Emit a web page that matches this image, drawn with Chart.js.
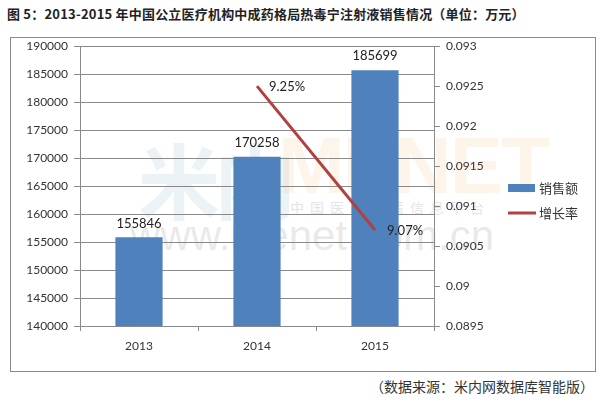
<!DOCTYPE html>
<html>
<head>
<meta charset="utf-8">
<script src="https://cdn.jsdelivr.net/npm/chart.js@4"></script>
<style>
  html, body { margin: 0; padding: 0; background: #fff; width: 604px; height: 406px; overflow: hidden; }
  #title { position: absolute; left: 7px; top: 4px; font: bold 13px "Noto Sans CJK SC", sans-serif; color: #222; white-space: nowrap; letter-spacing: 0.2px; }
  #frame { position: absolute; left: 10px; top: 37px; width: 584px; height: 333px; border: 1px solid #8a8a8a; }
  #wm { position: absolute; left: 0; top: 0; width: 604px; height: 406px; }
  #wrap { position: absolute; left: 11px; top: 33px; width: 583px; height: 337px; }
  #note { position: absolute; right: 10px; top: 376px; font: 14px "Noto Sans CJK SC", sans-serif; color: #333; white-space: nowrap; }
  .w { position: absolute; white-space: nowrap; }
</style>
</head>
<body>
<div id="title">图 5：2013-2015 年中国公立医疗机构中成药格局热毒宁注射液销售情况（单位：万元）</div>
<div id="frame"></div>
<div id="wm">
  <div class="w" style="left:138px;top:118px;font:bold 82px 'Noto Sans CJK SC';color:rgba(170,200,220,0.22);letter-spacing:-6px;">米内</div>
  <div class="w" style="left:278px;top:120px;font:bold 80px 'Liberation Sans';color:rgba(245,200,150,0.2);letter-spacing:-2px;">MENET</div>
  <div class="w" style="left:290px;top:197px;font:14px 'Noto Sans CJK SC';color:rgba(160,160,160,0.3);letter-spacing:6px;">中国医药决策信息平台</div>
  <div class="w" style="left:130px;top:212px;font:42px 'Liberation Sans';color:rgba(170,170,170,0.25);">www.menet.com.cn</div>
</div>
<div id="wrap"><canvas id="c" width="583" height="337"></canvas></div>
<div id="note">（数据来源：米内网数据库智能版）</div>
<script>
const categories = ['2013', '2014', '2015'];
const salesValues = [155846, 170258, 185699];
const growthValues = [null, 0.0925, 0.0907];
const growthLabels = [null, '9.25%', '9.07%'];
const seriesNames = ['销售额', '增长率'];

const fontFam = 'Lato, "Open Sans", sans-serif';
const barColor = '#4F81BD';
const lineColor = '#B0413E';

const labelPlugin = {
  id: 'labels',
  afterDatasetsDraw(chart) {
    const ctx = chart.ctx;
    ctx.save();
    ctx.font = '13px ' + fontFam;
    ctx.fillStyle = '#222';
    const bars = chart.getDatasetMeta(0).data;
    ctx.textAlign = 'center';
    ctx.textBaseline = 'middle';
    bars.forEach((b, i) => {
      ctx.fillText(String(salesValues[i]), b.x, b.y - 14);
    });
    const pts = chart.getDatasetMeta(1).data;
    ctx.textAlign = 'left';
    pts.forEach((p, i) => {
      if (growthValues[i] == null) return;
      ctx.fillText(growthLabels[i], p.x + 12, p.y + 1);
    });
    ctx.restore();
  },
  afterDraw(chart) {
    const ctx = chart.ctx;
    ctx.save();
    const x0 = 497, y0 = 155;
    ctx.fillStyle = barColor;
    ctx.fillRect(x0, y0 - 4, 27, 8);
    ctx.strokeStyle = lineColor;
    ctx.lineWidth = 3;
    ctx.beginPath();
    ctx.moveTo(x0, y0 + 25);
    ctx.lineTo(x0 + 28, y0 + 25);
    ctx.stroke();
    ctx.font = '13px "Noto Sans CJK SC", sans-serif';
    ctx.fillStyle = '#333';
    ctx.textAlign = 'left';
    ctx.textBaseline = 'middle';
    ctx.fillText(seriesNames[0], x0 + 31, y0);
    ctx.fillText(seriesNames[1], x0 + 31, y0 + 25);
    ctx.restore();
  }
};

new Chart(document.getElementById('c'), {
  data: {
    labels: categories,
    datasets: [
      { type: 'bar', label: seriesNames[0], data: salesValues, backgroundColor: barColor,
        categoryPercentage: 0.4, barPercentage: 1, yAxisID: 'y', order: 2 },
      { type: 'line', label: seriesNames[1], data: growthValues, borderColor: lineColor,
        borderWidth: 3, pointRadius: 0, yAxisID: 'y1', order: 1, spanGaps: false }
    ]
  },
  options: {
    responsive: false,
    animation: false,
    layout: { padding: { left: 0, right: 90, top: 0, bottom: 0 } },
    plugins: { legend: { display: false }, tooltip: { enabled: false } },
    scales: {
      x: {
        offset: true,
        grid: { offset: true, drawOnChartArea: false, drawTicks: true, tickLength: 5, color: '#8a8a8a' },
        border: { color: '#8a8a8a' },
        ticks: { color: '#333', font: { family: fontFam, size: 12 }, padding: 8 },
        afterFit(s) { s.height = 44; }
      },
      y: {
        position: 'left',
        min: 140000, max: 190000,
        ticks: { stepSize: 5000, color: '#333', font: { family: fontFam, size: 12 }, padding: 6,
          callback: v => String(v) },
        grid: { color: '#8a8a8a', tickLength: 6 },
        border: { color: '#8a8a8a' },
        afterFit(s) { s.width = 69; }
      },
      y1: {
        position: 'right',
        min: 0.0895, max: 0.093,
        ticks: { stepSize: 0.0005, color: '#333', font: { family: fontFam, size: 12 }, padding: 6,
          callback: v => String(parseFloat(v.toFixed(4))) },
        grid: { drawOnChartArea: false, color: '#8a8a8a', tickLength: 6 },
        border: { color: '#8a8a8a' },
        afterFit(s) { s.width = 70; }
      }
    }
  },
  plugins: [labelPlugin]
});
</script>
</body>
</html>
